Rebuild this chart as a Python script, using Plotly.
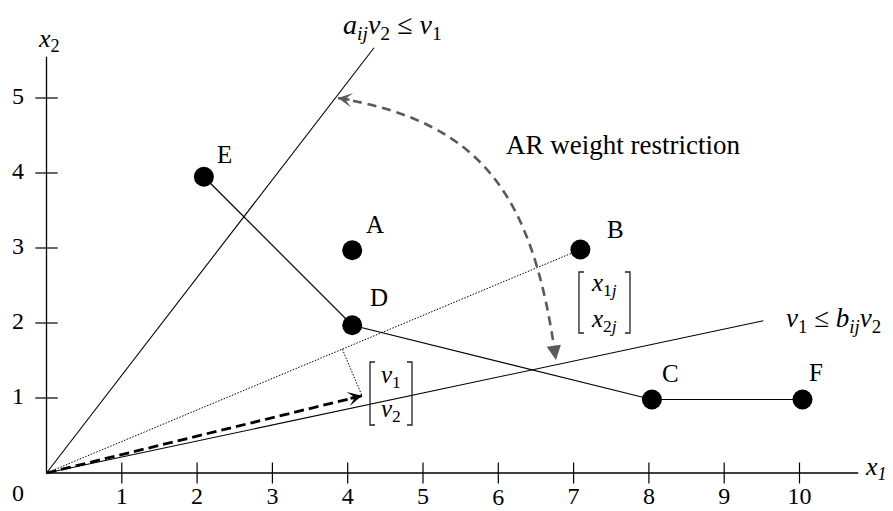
import plotly.graph_objects as go

# ---------------- data ----------------
point_names = ["E", "A", "D", "B", "C", "F"]
point_x = [2.09, 4.06, 4.06, 7.09, 8.04, 10.04]
point_y = [3.95, 2.97, 1.97, 2.98, 0.98, 0.98]

frontier_names = ["E", "D", "C", "F"]

ray_a_end = [4.35, 5.67]      # a_ij v2 <= v1
ray_b_end = [9.52, 2.03]      # v1 <= b_ij v2
v_vector = [4.19, 1.03]       # weight vector [v1, v2]

x_ticks = [1, 2, 3, 4, 5, 6, 7, 8, 9, 10]
x_tick_labels = ["1", "2", "3", "4", "5", "6", "7", "8", "9", "10"]
y_ticks = [1, 2, 3, 4, 5]
y_tick_labels = ["1", "2", "3", "4", "5"]
axis_x_end = 10.78
axis_y_end = 5.55

# ---------------- layout helpers ----------------
PX_X0, PX_SX, PX_Y0, PX_SY = 46.5, 75.3, 473.0, 75.0
W, H = 893, 511
x_range = [-PX_X0 / PX_SX, (W - PX_X0) / PX_SX]
y_range = [(PX_Y0 - H) / PX_SY, PX_Y0 / PX_SY]

FONT = "Liberation Serif"
BLACK = "#000000"
GRAY = "#5a5a5a"

pts = dict(zip(point_names, zip(point_x, point_y)))

fig = go.Figure()

# axes lines
fig.add_trace(go.Scatter(x=[0, axis_x_end], y=[0, 0], mode="lines",
                         line=dict(color=BLACK, width=1.3), hoverinfo="skip"))
fig.add_trace(go.Scatter(x=[0, 0], y=[0, axis_y_end], mode="lines",
                         line=dict(color=BLACK, width=1.3), hoverinfo="skip"))
# tick marks
fig.add_trace(go.Scatter(x=x_ticks, y=[0] * len(x_ticks), mode="markers",
                         marker=dict(symbol="line-ns", size=15,
                                     line=dict(color=BLACK, width=1.2)),
                         hoverinfo="skip"))
fig.add_trace(go.Scatter(x=[0] * len(y_ticks), y=y_ticks, mode="markers",
                         marker=dict(symbol="line-ew", size=16,
                                     line=dict(color=BLACK, width=1.2)),
                         hoverinfo="skip"))
# tick labels
xl_y = [-0.33] * len(x_ticks)
xl_y[5] = -0.345
fig.add_trace(go.Scatter(x=x_ticks, y=xl_y, mode="text", text=x_tick_labels,
                         textfont=dict(family=FONT, size=24, color=BLACK),
                         hoverinfo="skip"))
fig.add_trace(go.Scatter(x=[-0.378] * len(y_ticks), y=y_ticks, mode="text",
                         text=y_tick_labels,
                         textfont=dict(family=FONT, size=24, color=BLACK),
                         hoverinfo="skip"))
fig.add_trace(go.Scatter(x=[-0.378], y=[-0.293], mode="text", text=["0"],
                         textfont=dict(family=FONT, size=24, color=BLACK),
                         hoverinfo="skip"))

# rays for the weight restrictions
fig.add_trace(go.Scatter(x=[0, ray_a_end[0]], y=[0, ray_a_end[1]], mode="lines",
                         line=dict(color=BLACK, width=1.1), hoverinfo="skip"))
fig.add_trace(go.Scatter(x=[0, ray_b_end[0]], y=[0, ray_b_end[1]], mode="lines",
                         line=dict(color=BLACK, width=1.1), hoverinfo="skip"))

# dotted ray to B and projection of v onto it
bx, by = pts["B"]
norm2 = bx * bx + by * by
t = (v_vector[0] * bx + v_vector[1] * by) / norm2
foot = [t * bx, t * by]
fig.add_trace(go.Scatter(x=[0, bx], y=[0, by], mode="lines",
                         line=dict(color=BLACK, width=1, dash="1.5px,1.5px"),
                         hoverinfo="skip"))
fig.add_trace(go.Scatter(x=[foot[0], v_vector[0]], y=[foot[1], v_vector[1]],
                         mode="lines",
                         line=dict(color=BLACK, width=1, dash="1.5px,1.5px"),
                         hoverinfo="skip"))

# dashed weight vector
fig.add_trace(go.Scatter(x=[0, v_vector[0]], y=[0, v_vector[1]], mode="lines",
                         line=dict(color=BLACK, width=2.8, dash="10px,5px"),
                         hoverinfo="skip"))

# frontier
fig.add_trace(go.Scatter(x=[pts[n][0] for n in frontier_names],
                         y=[pts[n][1] for n in frontier_names], mode="lines",
                         line=dict(color=BLACK, width=1.2), hoverinfo="skip"))

# points
fig.add_trace(go.Scatter(x=point_x, y=point_y, mode="markers",
                         marker=dict(color=BLACK, size=20), hoverinfo="skip"))

annotations = []
# point labels (pixel offsets)
label_dx = {"E": 21, "A": 23, "D": 27, "B": 35, "C": 19, "F": 13}
label_dy = {"E": 22, "A": 26, "D": 28, "B": 20, "C": 26, "F": 27}
for n in point_names:
    annotations.append(dict(x=pts[n][0], y=pts[n][1], text=n, showarrow=False,
                            xshift=label_dx[n], yshift=label_dy[n],
                            font=dict(family=FONT, size=25, color=BLACK)))

# axis titles
annotations.append(dict(x=0.033, y=5.773, text="<i>x</i><sub>2</sub>", showarrow=False,
                        font=dict(family=FONT, size=26, color=BLACK)))
annotations.append(dict(x=11.015, y=0.07, text="<i>x<sub>1</sub></i>", showarrow=False,
                        font=dict(family=FONT, size=26, color=BLACK)))

# restriction labels
annotations.append(dict(x=4.6, y=5.96,
                        text="<i>a<sub>ij</sub>v</i><sub>2</sub> ≤ <i>v</i><sub>1</sub>",
                        showarrow=False, font=dict(family=FONT, size=28, color=BLACK)))
annotations.append(dict(x=10.45, y=2.04,
                        text="<i>v</i><sub>1</sub> ≤ <i>b<sub>ij</sub>v</i><sub>2</sub>",
                        showarrow=False, font=dict(family=FONT, size=27, color=BLACK)))
annotations.append(dict(x=7.65, y=4.373, text="AR weight restriction", showarrow=False,
                        font=dict(family=FONT, size=27, color=BLACK)))

# matrices
shapes = []
def matrix(cx, cy, rows, half_w, half_h, row_off):
    for r, dy in zip(rows, [row_off, -row_off]):
        annotations.append(dict(x=cx, y=cy, text=r, showarrow=False, yshift=dy,
                                font=dict(family=FONT, size=25, color=BLACK)))
    for s in (-1, 1):
        path = (f"M{s*(half_w-5)},{half_h} L{s*half_w},{half_h} "
                f"L{s*half_w},{-half_h} L{s*(half_w-5)},{-half_h}")
        shapes.append(dict(type="path", xref="x", yref="y",
                           xsizemode="pixel", ysizemode="pixel",
                           xanchor=cx, yanchor=cy, path=path,
                           line=dict(color="#222222", width=1.3)))

matrix(4.575, 1.06, ["<i>v</i><sub>1</sub>", "<i>v</i><sub>2</sub>"], 21, 31.5, 17)
matrix(7.41, 2.273, ["<i>x</i><sub>1<i>j</i></sub>", "<i>x</i><sub>2<i>j</i></sub>"], 25.5, 30.5, 18)

# curved gray dashed arrow
c0 = (3.871, 5.0)
c1 = (5.797, 4.672)
c2 = (6.461, 3.707)
c3 = (6.766, 1.507)
shapes.append(dict(type="path", xref="x", yref="y",
                   path=f"M{c0[0]},{c0[1]} C{c1[0]},{c1[1]} {c2[0]},{c2[1]} {c3[0]},{c3[1]}",
                   line=dict(color=GRAY, width=2.6, dash="9px,6px")))
annotations.append(dict(x=c0[0], y=c0[1], ax=13, ay=2, text="", showarrow=True,
                        arrowhead=3, arrowsize=0.95, arrowwidth=2.5, arrowcolor=GRAY))
annotations.append(dict(x=c3[0], y=c3[1], ax=-2, ay=-13, text="", showarrow=True,
                        arrowhead=2, arrowsize=1.15, arrowwidth=2.5, arrowcolor=GRAY))
# black arrowhead of the weight vector
annotations.append(dict(x=v_vector[0], y=v_vector[1], ax=-13, ay=3, text="",
                        showarrow=True, arrowhead=3, arrowsize=0.85, arrowwidth=2.8,
                        arrowcolor=BLACK))

fig.update_layout(
    width=W, height=H, autosize=False,
    margin=dict(l=0, r=0, t=0, b=0),
    plot_bgcolor="white", paper_bgcolor="white",
    showlegend=False,
    xaxis=dict(range=x_range, visible=False, fixedrange=True),
    yaxis=dict(range=y_range, visible=False, fixedrange=True),
    annotations=annotations, shapes=shapes,
)

fig.write_html("out.html")
